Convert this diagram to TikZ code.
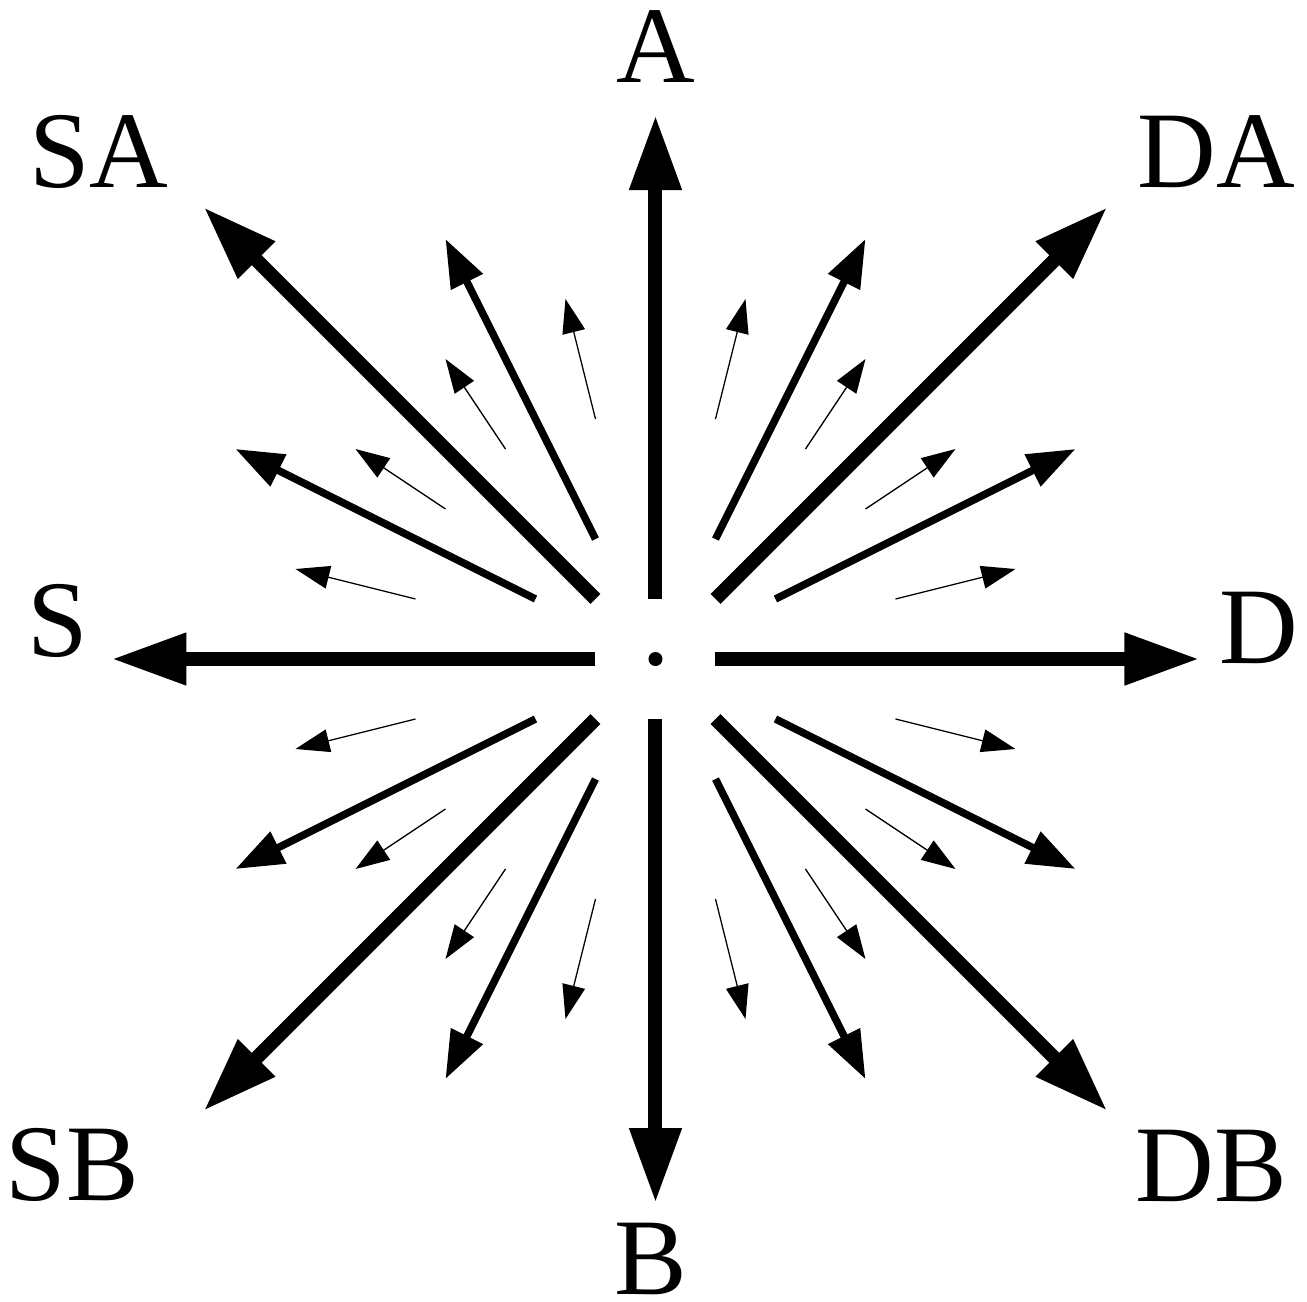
\documentclass[tikz,border=0pt]{standalone}
\usepackage{fontspec}
\setmainfont{Liberation Serif}
\usepackage{tikz}
\usetikzlibrary{arrows.meta}

\tikzset{
  bigarrow/.style={-{Triangle[length=7.5mm,width=4.9mm]},line width=1.4mm},
  midarrow/.style={-{Triangle[length=4.8mm,width=3.4mm]},line width=0.75mm},
  thinarrow/.style={-{Triangle[length=3.4mm,width=2.3mm]},line width=0.13mm},
  dirlabel/.style={inner sep=0pt,font=\fontsize{31}{37}\selectfont}
}

\begin{document}
\begin{tikzpicture}[x=1mm,y=1mm]
    \useasboundingbox (-65.55,-64.2) rectangle (65.15,65.9);

    % centre
    \fill (0,0) circle (0.7);

    % axes and diagonals
    \foreach \a in {0,90,180,270} {
        \draw[bigarrow] (\a:6) -- (\a:54.4);
        \draw[bigarrow] (\a+45:8.49) -- (\a+45:63.9);
    }

    % one quadrant, mirrored into the others
    \foreach \sx/\sy in {1/1,-1/1,1/-1,-1/-1} {
        \begin{scope}[xscale=\sx,yscale=\sy]
            \draw[midarrow] (6,12) -- (21,42);
            \draw[midarrow] (12,6) -- (42,21);
            \draw[thinarrow] (6,24) -- (9,36);
            \draw[thinarrow] (15,21) -- (21,30);
            \draw[thinarrow] (21,15) -- (30,21);
            \draw[thinarrow] (24,6) -- (36,9);
        \end{scope}
    }

    \node[dirlabel] (a)  at (0,61.2)        {A};
    \node[dirlabel] (b)  at (-0.5,-60.0)    {B};
    \node[dirlabel] (s)  at (-59.75,3.85)   {S};
    \node[dirlabel] (d)  at (60.3,3.1)      {D};
    \node[dirlabel] (sa) at (-55.65,50.75)  {SA};
    \node[dirlabel] (da) at (56.1,50.75)    {DA};
    \node[dirlabel] (sb) at (-58.3,-50.6)   {SB};
    \node[dirlabel] (db) at (55.6,-50.7)    {DB};
\end{tikzpicture}
\end{document}
